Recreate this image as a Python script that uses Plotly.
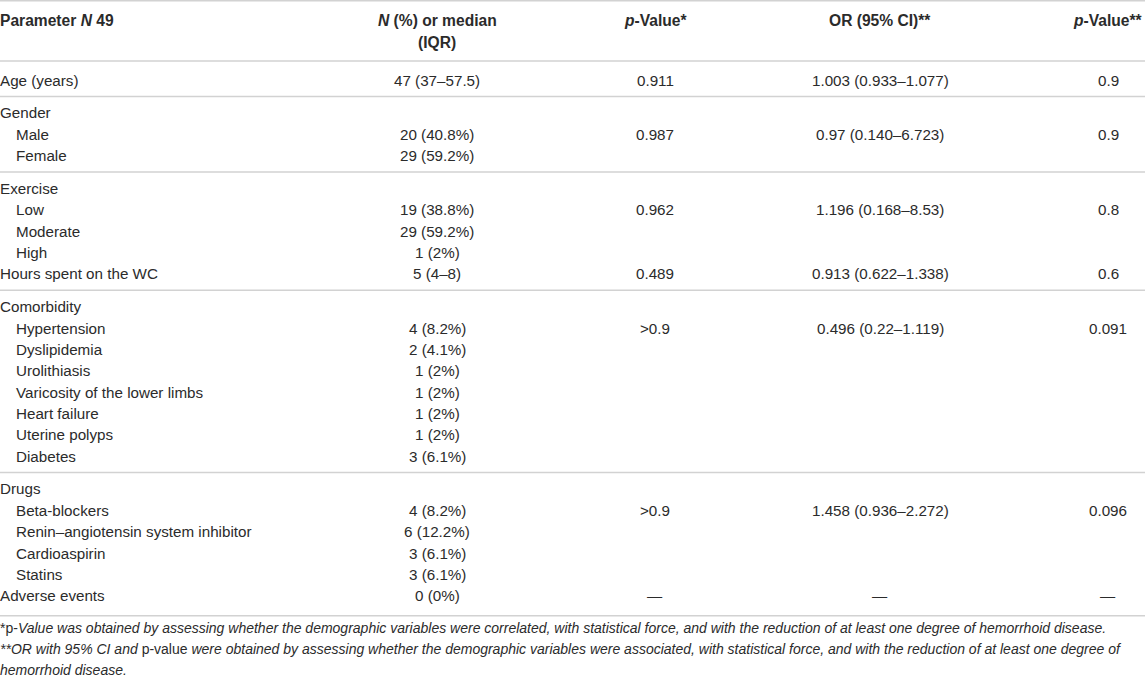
import plotly.graph_objects as go

W, H = 1145, 678

# ---- table data -------------------------------------------------------------
headers = [
    "Parameter <i>N</i> 49",
    "<i>N</i> (%) or median<br>(IQR)",
    "<i>p</i>-Value*",
    "OR (95% CI)**",
    "<i>p</i>-Value**",
]

params = [
    "Age (years)",
    "Gender", "Male", "Female",
    "Exercise", "Low", "Moderate", "High", "Hours spent on the WC",
    "Comorbidity", "Hypertension", "Dyslipidemia", "Urolithiasis",
    "Varicosity of the lower limbs", "Heart failure", "Uterine polyps", "Diabetes",
    "Drugs", "Beta-blockers", "Renin–angiotensin system inhibitor", "Cardioaspirin",
    "Statins", "Adverse events",
]
indent = [0, 0, 1, 1, 0, 1, 1, 1, 0, 0, 1, 1, 1, 1, 1, 1, 1, 0, 1, 1, 1, 1, 0]
group = [0, 1, 1, 1, 2, 2, 2, 2, 2, 3, 3, 3, 3, 3, 3, 3, 3, 4, 4, 4, 4, 4, 4]

n_pct = [
    "47 (37–57.5)",
    "", "20 (40.8%)", "29 (59.2%)",
    "", "19 (38.8%)", "29 (59.2%)", "1 (2%)", "5 (4–8)",
    "", "4 (8.2%)", "2 (4.1%)", "1 (2%)", "1 (2%)", "1 (2%)", "1 (2%)", "3 (6.1%)",
    "", "4 (8.2%)", "6 (12.2%)", "3 (6.1%)", "3 (6.1%)", "0 (0%)",
]
p_value1 = [
    "0.911",
    "", "0.987", "",
    "", "0.962", "", "", "0.489",
    "", ">0.9", "", "", "", "", "", "",
    "", ">0.9", "", "", "", "—",
]
odds_ratio = [
    "1.003 (0.933–1.077)",
    "", "0.97 (0.140–6.723)", "",
    "", "1.196 (0.168–8.53)", "", "", "0.913 (0.622–1.338)",
    "", "0.496 (0.22–1.119)", "", "", "", "", "", "",
    "", "1.458 (0.936–2.272)", "", "", "", "—",
]
p_value2 = [
    "0.9",
    "", "0.9", "",
    "", "0.8", "", "", "0.6",
    "", "0.091", "", "", "", "", "", "",
    "", "0.096", "", "", "", "—",
]

footnotes = [
    "*p-<i>Value was obtained by assessing whether the demographic variables were correlated, "
    "with statistical force, and with the reduction of at least one degree of hemorrhoid disease.</i>",
    "<i>**OR with 95% CI and </i>p-value<i> were obtained by assessing whether the demographic variables "
    "were associated, with statistical force, and with the reduction of at least one degree of</i>",
    "<i>hemorrhoid disease.</i>",
]

# ---- layout constants -------------------------------------------------------
FONT = "Liberation Sans, Arial, Helvetica, sans-serif"
TXT = "#2b2b2b"
LINE = "#d2d2d2"
col_x = [0, 437, 655, 880, 1108]
ROW_H = 21.35
GROUP_GAP = 11.5
FIRST_Y = 80
HEAD_Y = 20

fig = go.Figure()
ann = []


def add_text(x, y, text, anchor="center", size=15.2, color=TXT):
    ann.append(dict(
        x=x, y=y, xref="x", yref="y", text=text, showarrow=False,
        xanchor=anchor, yanchor="middle",
        # left-aligned cells: pull back the annotation padding
        xshift=-2 if anchor == "left" else 0,
        font=dict(family=FONT, size=size, color=color),
    ))


# header
for c, h in enumerate(headers):
    for k, part in enumerate(h.split("<br>")):
        add_text(col_x[c], HEAD_Y + k * 22, f"<b>{part}</b>",
                 anchor="left" if c == 0 else "center", size=15.6)

# body rows
row_y = [FIRST_Y + i * ROW_H + g * GROUP_GAP for i, g in enumerate(group)]
columns = [n_pct, p_value1, odds_ratio, p_value2]
for i, y in enumerate(row_y):
    add_text(col_x[0] + 16 * indent[i], y, params[i], anchor="left")
    for c, col in enumerate(columns, start=1):
        if col[i]:
            add_text(col_x[c], y, col[i])

# footnotes
for k, f in enumerate(footnotes):
    add_text(col_x[0], 628 + k * 21, f, anchor="left", size=14.0)

# horizontal rules: top, under header, between groups, bottom
rules = [0.8, 61]
for i in range(1, len(group)):
    if group[i] != group[i - 1]:
        rules.append((row_y[i] + row_y[i - 1]) / 2)
rules.append(row_y[-1] + 20)
shapes = [dict(type="line", xref="x", yref="y", x0=0, x1=W, y0=r, y1=r,
               line=dict(color=LINE, width=1.6)) for r in rules]

fig.update_layout(
    width=W, height=H,
    margin=dict(l=0, r=0, t=0, b=0),
    paper_bgcolor="white", plot_bgcolor="white",
    xaxis=dict(range=[0, W], visible=False, fixedrange=True),
    yaxis=dict(range=[H, 0], visible=False, fixedrange=True),
    annotations=ann, shapes=shapes, showlegend=False,
)

# the page body has a default margin; drop it so the table sits at the corner
fig.write_html("out.html", config={"displayModeBar": False},
               post_script="document.body.style.margin='0';")
